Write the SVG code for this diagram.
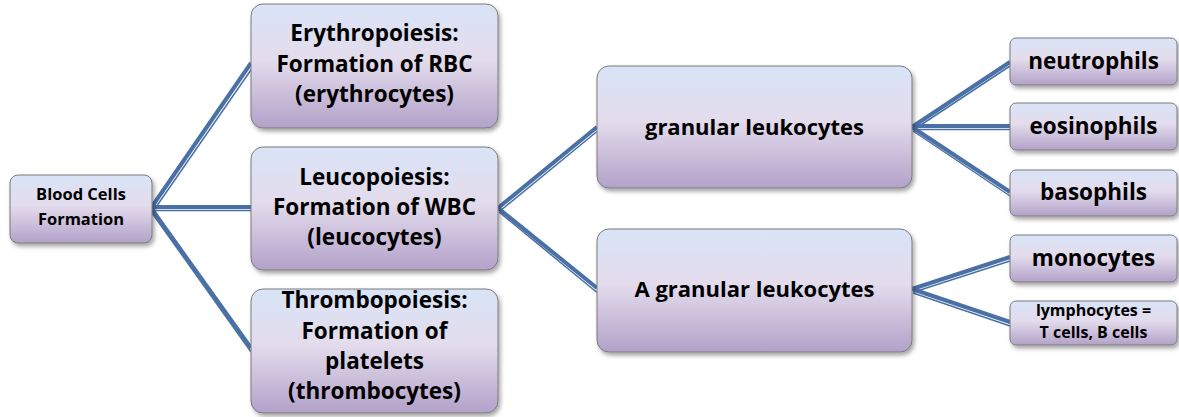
<svg xmlns="http://www.w3.org/2000/svg" width="1179" height="417" viewBox="0 0 1179 417">
<defs>
<linearGradient id="g" x1="0" y1="0" x2="0" y2="1">
<stop offset="0" stop-color="#d9e4f7"/>
<stop offset="0.45" stop-color="#e3dcec"/>
<stop offset="1" stop-color="#b3a1c9"/>
</linearGradient>
<filter id="sh" x="-10%" y="-10%" width="130%" height="140%">
<feDropShadow dx="2" dy="3" stdDeviation="2" flood-color="#000" flood-opacity="0.35"/>
</filter>
</defs>
<style>
.box{fill:url(#g);stroke:#7b7b7b;stroke-width:1;filter:url(#sh)}
.t{font-family:"Open Sans","Liberation Sans",sans-serif;font-weight:bold;fill:#000;text-anchor:middle}
.big{font-size:22.5px}
.thick{stroke:#4a70a6;stroke-width:4;fill:none}
.thin{stroke:#4a70a6;stroke-width:1.5;fill:none}
</style>
<g id="connectors">
<line class="thick" x1="151" y1="208" x2="251" y2="63"/>
<line class="thin" x1="154" y1="210" x2="253" y2="67"/>
<line class="thick" x1="151" y1="207" x2="251" y2="207"/>
<line class="thin" x1="153" y1="210.5" x2="251" y2="210.5"/>
<line class="thick" x1="151" y1="208" x2="251" y2="348"/>
<line class="thin" x1="152" y1="213" x2="251" y2="352"/>
<line class="thick" x1="498" y1="208" x2="597" y2="127"/>
<line class="thin" x1="500" y1="211" x2="597" y2="131.5"/>
<line class="thick" x1="498" y1="208" x2="597" y2="288"/>
<line class="thin" x1="499" y1="212" x2="597" y2="292.5"/>
<line class="thick" x1="912" y1="127" x2="1010" y2="62"/>
<line class="thin" x1="914" y1="129.5" x2="1010" y2="66"/>
<line class="thick" x1="912" y1="126" x2="1010" y2="126"/>
<line class="thin" x1="914" y1="129.5" x2="1010" y2="129.5"/>
<line class="thick" x1="912" y1="127" x2="1010" y2="192"/>
<line class="thin" x1="913" y1="131" x2="1010" y2="196"/>
<line class="thick" x1="912" y1="289" x2="1010" y2="257"/>
<line class="thin" x1="914" y1="292" x2="1010" y2="261"/>
<line class="thick" x1="912" y1="289" x2="1010" y2="322"/>
<line class="thin" x1="913" y1="293" x2="1010" y2="326"/>
</g>
<g id="blood">
<rect class="box" x="10" y="175" width="142" height="68" rx="8"/>
<text class="t" x="81" y="200" font-size="16.5">Blood Cells</text>
<text class="t" x="81" y="225" font-size="16.5">Formation</text>
</g>
<g id="erythro">
<rect class="box" x="251" y="4" width="247" height="124" rx="12"/>
<text class="t big" x="374.5" y="41">Erythropoiesis:</text>
<text class="t big" x="374.5" y="72">Formation of RBC</text>
<text class="t big" x="374.5" y="102">(erythrocytes)</text>
</g>
<g id="leuco">
<rect class="box" x="251" y="147" width="247" height="123" rx="12"/>
<text class="t big" x="374.5" y="185">Leucopoiesis:</text>
<text class="t big" x="374.5" y="215">Formation of WBC</text>
<text class="t big" x="374.5" y="245">(leucocytes)</text>
</g>
<g id="thrombo">
<rect class="box" x="251" y="289" width="247" height="124" rx="12"/>
<text class="t big" x="374.5" y="308">Thrombopoiesis:</text>
<text class="t big" x="374.5" y="339">Formation of</text>
<text class="t big" x="374.5" y="369">platelets</text>
<text class="t big" x="374.5" y="399">(thrombocytes)</text>
</g>
<g id="granular">
<rect class="box" x="597" y="66" width="315" height="122" rx="12"/>
<text class="t" x="754.5" y="135" font-size="22">granular leukocytes</text>
</g>
<g id="agranular">
<rect class="box" x="597" y="229" width="315" height="123" rx="12"/>
<text class="t" x="754.5" y="297" font-size="22">A granular leukocytes</text>
</g>
<g id="neutrophils">
<rect class="box" x="1010" y="38" width="167" height="47" rx="6"/>
<text class="t big" x="1093.5" y="69">neutrophils</text>
</g>
<g id="eosinophils">
<rect class="box" x="1010" y="103" width="167" height="47" rx="6"/>
<text class="t big" x="1093.5" y="134">eosinophils</text>
</g>
<g id="basophils">
<rect class="box" x="1010" y="170" width="167" height="46" rx="6"/>
<text class="t big" x="1093.5" y="200">basophils</text>
</g>
<g id="monocytes">
<rect class="box" x="1010" y="235" width="167" height="47" rx="6"/>
<text class="t big" x="1093.5" y="266">monocytes</text>
</g>
<g id="lymphocytes">
<rect class="box" x="1010" y="301" width="167" height="44" rx="6"/>
<text class="t" x="1093.5" y="316" font-size="16">lymphocytes =</text>
<text class="t" x="1093.5" y="338" font-size="16">T cells, B cells</text>
</g>
</svg>
